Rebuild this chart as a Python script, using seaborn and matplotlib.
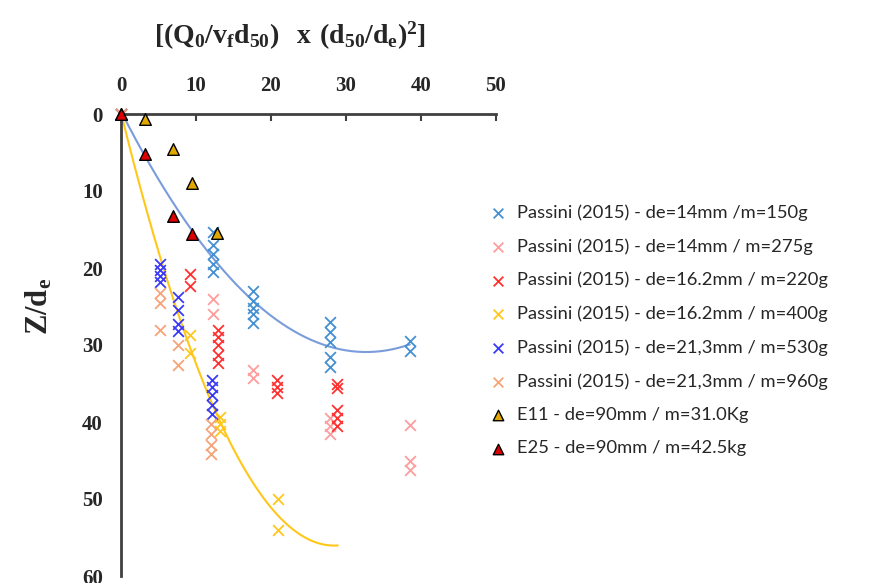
import numpy as np
import matplotlib
matplotlib.use("Agg")
import matplotlib.pyplot as plt
import seaborn as sns

# --- data ---
# Passini (2015) - de=14mm / m=150g
blue150_x = [0, 12.3, 12.3, 12.3, 12.3, 12.3, 17.6, 17.6, 17.6, 17.6, 17.6,
             27.9, 27.9, 27.9, 27.9, 27.9, 38.5, 38.5]
blue150_y = [0, 15.3, 17.0, 18.2, 19.5, 20.5, 23.0, 24.3, 25.2, 26.0, 27.2,
             27.0, 28.3, 29.6, 31.5, 32.8, 29.5, 30.8]
# Passini (2015) - de=14mm / m=275g
pink275_x = [0, 12.3, 12.3, 17.6, 17.6, 27.9, 27.9, 27.9, 38.5, 38.5, 38.5]
pink275_y = [0, 24.0, 26.0, 33.2, 34.3, 39.5, 40.5, 41.5, 40.4, 45.0, 46.2]
# Passini (2015) - de=16.2mm / m=220g
red220_x = [0, 9.2, 9.2, 13.0, 13.0, 13.0, 13.0, 13.0, 20.8, 20.8, 20.8,
            28.8, 28.8, 28.8, 28.8, 28.8]
red220_y = [0, 20.8, 22.4, 28.0, 29.0, 30.0, 31.3, 32.3, 34.6, 35.4, 36.2,
            35.0, 35.6, 38.5, 39.5, 40.5]
# Passini (2015) - de=16.2mm / m=400g
yellow400_x = [0, 9.2, 9.2, 13.2, 13.2, 13.2, 20.9, 20.9]
yellow400_y = [0, 28.7, 31.0, 39.3, 40.3, 41.2, 50.0, 54.0]
# Passini (2015) - de=21,3mm / m=530g
blue530_x = [0, 5.2, 5.2, 5.2, 5.2, 7.6, 7.6, 7.6, 7.6, 12.2, 12.2, 12.2, 12.2, 12.2]
blue530_y = [0, 19.5, 20.3, 21.0, 21.8, 23.8, 25.5, 27.3, 28.2, 34.5, 35.5, 36.5, 37.8, 39.0]
# Passini (2015) - de=21,3mm / m=960g
orange960_x = [0, 5.2, 5.2, 5.2, 7.6, 7.6, 12.0, 12.0, 12.0, 12.0]
orange960_y = [0, 23.3, 24.6, 28.0, 30.0, 32.6, 40.3, 41.5, 43.0, 44.2]
# E11 and E25 tests
e11_x = [0, 3.2, 7.0, 9.5, 12.8]
e11_y = [0, 0.6, 4.5, 9.0, 15.4]
e25_x = [0, 3.2, 7.0, 9.5]
e25_y = [0, 5.2, 13.3, 15.6]

passini = [
    ("Passini (2015) - de=14mm /m=150g", blue150_x, blue150_y, "#4490D2"),
    ("Passini (2015) - de=14mm / m=275g", pink275_x, pink275_y, "#FF9C9C"),
    ("Passini (2015) - de=16.2mm / m=220g", red220_x, red220_y, "#FF3030"),
    ("Passini (2015) - de=16.2mm / m=400g", yellow400_x, yellow400_y, "#FFC71A"),
    ("Passini (2015) - de=21,3mm / m=530g", blue530_x, blue530_y, "#3A3AF5"),
    ("Passini (2015) - de=21,3mm / m=960g", orange960_x, orange960_y, "#F5A47A"),
]
tests = [
    ("E11 - de=90mm / m=31.0Kg", e11_x, e11_y, "#E0A800"),
    ("E25 - de=90mm / m=42.5kg", e25_x, e25_y, "#DD0000"),
]

sns.set_style("white")
plt.rcParams["mathtext.fontset"] = "custom"
plt.rcParams["mathtext.bf"] = "Liberation Serif:bold"
plt.rcParams["mathtext.rm"] = "Liberation Serif:bold"

fig = plt.figure(figsize=(8.77, 5.83), dpi=100)
ax = fig.add_axes([121 / 877, 1 - 576 / 583, 375 / 877, 462 / 583])

# polynomial trendlines (order 2), as in the spreadsheet
for xs, ys, color, forward in [(blue150_x, blue150_y, "#7A9CDB", 0.0),
                               (yellow400_x, yellow400_y, "#FFC71A", 8.0)]:
    coef = np.polyfit(xs, ys, 2)
    xf = np.linspace(0, max(xs) + forward, 200)
    sns.lineplot(x=xf, y=np.polyval(coef, xf), ax=ax, color=color, lw=1.5,
                 zorder=2, legend=False)

for label, xs, ys, color in passini:
    sns.scatterplot(x=xs, y=ys, ax=ax, marker="x", color=color, s=60,
                    linewidth=1.3, label=label, zorder=3, clip_on=False)
for label, xs, ys, color in tests:
    sns.scatterplot(x=xs, y=ys, ax=ax, marker="^", color=color, s=70,
                    edgecolor="black", linewidth=1.0, label=label, zorder=4,
                    clip_on=False)

ax.set_xlim(0, 50)
ax.set_ylim(60, 0)
ax.set_xticks(range(0, 51, 10))
ax.set_yticks(range(0, 61, 10))
ax.xaxis.tick_top()
ax.xaxis.set_label_position("top")
for side in ["right", "bottom"]:
    ax.spines[side].set_visible(False)
for side in ["top", "left"]:
    ax.spines[side].set_color("#404040")
    ax.spines[side].set_linewidth(2)
ax.tick_params(axis="both", direction="in", length=5, width=1.5,
               color="#404040", labelsize=15, pad=13)
for t in ax.get_xticklabels() + ax.get_yticklabels():
    t.set_family("Liberation Serif")
    t.set_fontweight("bold")

ax.set_xlabel(r"$\mathbf{[(Q_0/v_f d_{50})\ \ x\ (d_{50}/d_e)^2]}$", fontsize=20)
ax.xaxis.set_label_coords(0.45, 1.152)
ax.set_ylabel(r"$\mathbf{Z/d_e}$", fontsize=22)
ax.yaxis.set_label_coords(-0.178, 0.584)

leg = ax.legend(loc="upper left", bbox_to_anchor=(481 / 877, 1 - 197 / 583),
                bbox_transform=fig.transFigure, frameon=False,
                prop={"family": "Lato", "size": 13.2}, handletextpad=0.55,
                handlelength=1.0, labelspacing=0.94, borderaxespad=0,
                markerscale=0.9)

fig.savefig("out.png", dpi=100)
